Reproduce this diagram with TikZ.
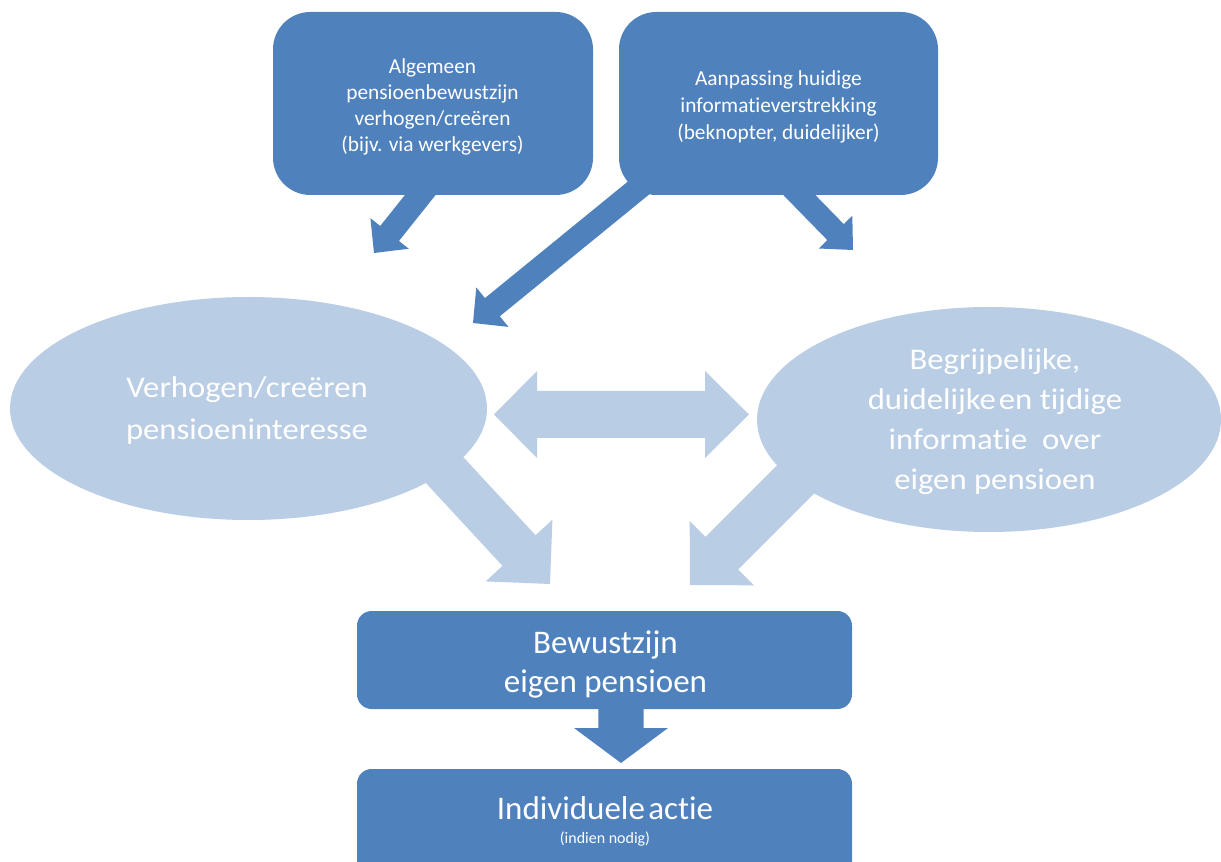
\documentclass[tikz,border=0pt]{standalone}
\usepackage{fontspec}
\setmainfont{Carlito}[Ligatures={NoCommon}]
\newfontfamily\wideF{Carlito}[FakeStretch=1.09,Ligatures={NoCommon}]
\usetikzlibrary{calc,shapes.geometric}
\definecolor{dblue}{HTML}{4F81BD}
\definecolor{lblue}{HTML}{B9CDE5}
% #1 colour, #2 start, #3 tip, #4 shaft half width, #5 head half width, #6 head length, #7 name
\newcommand{\blockarr}[7]{%
  \coordinate (#7-h) at ($(#3)!#6!(#2)$);
  \fill[#1] ($(#2)!#4!90:(#3)$) -- ($(#7-h)!#4!90:(#3)$) -- ($(#7-h)!#5!90:(#3)$) -- (#3)
    -- ($(#7-h)!#5!-90:(#3)$) -- ($(#7-h)!#4!-90:(#3)$) -- ($(#2)!#4!-90:(#3)$) -- cycle;
}
\begin{document}
\begin{tikzpicture}[x=0.75pt,y=-0.75pt,
  dbox/.style={fill=dblue, draw=none, inner sep=0pt},
  lell/.style={ellipse, fill=lblue, draw=none, inner sep=0pt},
  txt/.style={text=white, align=center, inner sep=0pt}]
\useasboundingbox (0,0) rectangle (1221,862);
\clip (0,0) rectangle (1221,862);

% ellipses
\node[lell, minimum width=357.75pt, minimum height=167.25pt] (e1) at (248.5,408.5) {};
\node[lell, minimum width=348pt, minimum height=168.75pt] (e2) at (989,419.5) {};

% light arrows
\coordinate (las) at (414,437); \coordinate (lat) at (550,584);
\coordinate (ras) at (831,444); \coordinate (rat) at (690,585);
\blockarr{lblue}{las}{lat}{16.9pt}{34.1pt}{34.2pt}{la}
\blockarr{lblue}{ras}{rat}{17.25pt}{34.1pt}{33.75pt}{ra}

% double arrow
\fill[lblue] (494,414.5) -- (537,371) -- (537,391) -- (705,391) -- (705,371) -- (749,414.5)
  -- (705,458) -- (705,438) -- (537,438) -- (537,458) -- cycle;

% dark arrows from top boxes
\coordinate (a1s) at (449,159); \coordinate (a1t) at (374,253);
\coordinate (a2s) at (690,146); \coordinate (a2t) at (473,323);
\coordinate (a3s) at (769,164); \coordinate (a3t) at (853,250);
\blockarr{dblue}{a1s}{a1t}{9pt}{18.4pt}{18.75pt}{a1}
\blockarr{dblue}{a2s}{a2t}{8.8pt}{19.1pt}{18.75pt}{a2}
\blockarr{dblue}{a3s}{a3t}{8.6pt}{17.6pt}{18.75pt}{a3}

% down arrow
\coordinate (das) at (621,700); \coordinate (dat) at (621,763);
\blockarr{dblue}{das}{dat}{16.9pt}{35.25pt}{26.25pt}{da}

% boxes
\node[dbox, rounded corners=28pt, minimum width=240pt, minimum height=137.25pt] (b1) at (433,103.5) {};
\node[dbox, rounded corners=28pt, minimum width=239.25pt, minimum height=137.25pt] (b2) at (778.5,103.5) {};
\node[dbox, rounded corners=11pt, minimum width=371.25pt, minimum height=73.5pt] (b3) at (604.5,660) {};
\node[dbox, rounded corners=11pt, minimum width=371.25pt, minimum height=84pt] (b4) at (604.5,825) {};

% texts
\node[txt, font=\fontsize{16}{19.5}\selectfont] (t1) at (432.5,107)
  {Algemeen\\pensioenbewustzijn\\verhogen/creëren\\(bijv. via werkgevers)};
\node[txt, font=\fontsize{16}{20}\selectfont] (t2) at (778.5,107)
  {Aanpassing huidige\\informatieverstrekking\\(beknopter, duidelijker)};
\node[txt, font=\wideF\fontsize{22.5}{32}\selectfont] (t3) at (247,410.5)
  {Verhogen/creëren\\pensioeninteresse};
\node[txt, font=\wideF\fontsize{22.5}{30}\selectfont] (t4) at (995,421.5)
  {Begrijpelijke,\\duidelijke\hspace{0.1em}en tijdige\\informatie~ over\\eigen pensioen};
\node[txt, font=\fontsize{24.75}{29.25}\selectfont] (t5) at (605.5,664.5)
  {Bewustzijn\\eigen pensioen};
\node[txt, anchor=base, font=\fontsize{24.75}{29.25}\selectfont] (t6) at (605,819) {Individuele\hspace{0.1em}actie};
\node[txt, anchor=base, font=\fontsize{12}{14}\selectfont] (t7) at (605,843) {(indien nodig)};
\end{tikzpicture}
\end{document}
